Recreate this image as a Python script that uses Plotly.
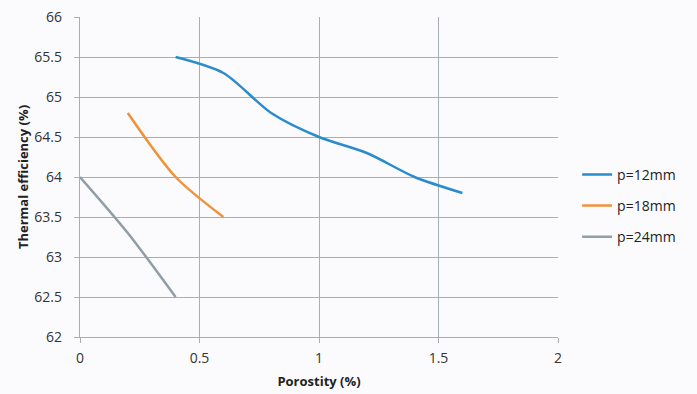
import plotly.graph_objects as go

# Porosity (%) vs thermal efficiency (%) for three pitch values
x_p12 = [0.4, 0.6, 0.8, 1.0, 1.2, 1.4, 1.6]
y_p12 = [65.5, 65.3, 64.8, 64.5, 64.3, 64.0, 63.8]

x_p18 = [0.2, 0.4, 0.6]
y_p18 = [64.8, 64.0, 63.5]

x_p24 = [0.0, 0.2, 0.4]
y_p24 = [64.0, 63.3, 62.5]

series_names = ["p=12mm", "p=18mm", "p=24mm"]
series_colors = ["#2a8ccc", "#f0923a", "#909ea6"]

x_ticks = [0, 0.5, 1, 1.5, 2]
x_tick_text = ["0", "0.5", "1", "1.5", "2"]
y_ticks = [62, 62.5, 63, 63.5, 64, 64.5, 65, 65.5, 66]
y_tick_text = ["62", "62.5", "63", "63.5", "64", "64.5", "65", "65.5", "66"]

FONT = "Open Sans, Liberation Sans, sans-serif"
GRID = "#a9aeb2"

fig = go.Figure()
for name, xs, ys, col in zip(series_names,
                             [x_p12, x_p18, x_p24],
                             [y_p12, y_p18, y_p24],
                             series_colors):
    fig.add_trace(go.Scatter(
        x=xs, y=ys, name=name, mode="lines", legendgroup=name,
        line=dict(color=col, width=2.5, shape="spline", smoothing=0.8),
    ))

fig.update_layout(
    width=697, height=394,
    margin=dict(l=80, r=139, t=17, b=57),
    paper_bgcolor="#fbfbfd",
    plot_bgcolor="#fbfbfd",
    font=dict(family=FONT, size=14, color="#333333"),
    showlegend=True,
    legend=dict(
        x=1.04, y=0.41, xanchor="left", yanchor="middle",
        bgcolor="rgba(0,0,0,0)", font=dict(size=14, color="#222222"),
        traceorder="grouped", tracegroupgap=10, itemwidth=30,
    ),
)

fig.update_xaxes(
    range=[0, 2], tickvals=x_ticks, ticktext=x_tick_text,
    showgrid=True, gridcolor=GRID, gridwidth=1.3,
    showline=True, linecolor=GRID, linewidth=1.3,
    ticks="outside", ticklen=5, tickcolor=GRID,
    ticklabelstandoff=3, automargin=False,
    zeroline=False, mirror=False,
    title=dict(text="<b>Porostity (%)</b>", font=dict(size=13, color="#222222"),
               standoff=10),
    tickfont=dict(size=14, color="#333333"),
)
fig.update_yaxes(
    range=[62, 66], tickvals=y_ticks, ticktext=y_tick_text,
    showgrid=True, gridcolor=GRID, gridwidth=1.3,
    showline=True, linecolor=GRID, linewidth=1.3,
    ticks="outside", ticklen=5, tickcolor=GRID,
    ticklabelstandoff=9, automargin=False,
    zeroline=False,
    title=dict(text="<b>Thermal efficiency (%)</b>", font=dict(size=13, color="#222222"),
               standoff=2),
    tickfont=dict(size=14, color="#333333"),
)

fig.write_html("out.html")
